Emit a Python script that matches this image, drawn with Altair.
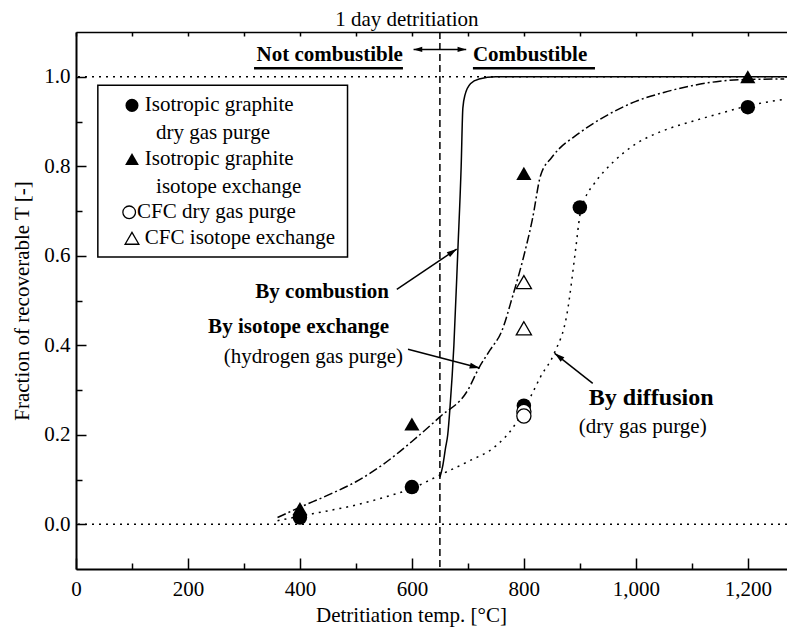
import math
import altair as alt
import pandas as pd

# ---------------- data ----------------
# curve: by combustion (solid)
comb_t = [650, 655, 660, 664, 668, 675, 682, 688, 691, 695, 705, 720, 750, 1270]
comb_f = [0.105, 0.13, 0.17, 0.20, 0.26, 0.40, 0.61, 0.80, 0.93, 0.96, 0.985, 0.995, 1.0, 1.0]
# curve: by isotope exchange (dash-dot)
iso_t = [360, 400, 450, 500, 550, 600, 650, 700, 720, 740, 760, 780, 800, 815, 830, 850,
         900, 950, 1000, 1050, 1100, 1150, 1200, 1265]
iso_f = [0.015, 0.038, 0.065, 0.095, 0.135, 0.185, 0.24, 0.30, 0.35, 0.39, 0.43, 0.51, 0.60,
         0.68, 0.78, 0.82, 0.875, 0.915, 0.945, 0.965, 0.98, 0.99, 0.994, 0.995]
# curve: by diffusion (dotted)
dif_t = [360, 400, 450, 500, 550, 600, 650, 700, 750, 780, 810, 830, 855, 877, 893, 900,
         910, 925, 960, 1000, 1050, 1100, 1150, 1200, 1268]
dif_f = [0.008, 0.018, 0.03, 0.043, 0.06, 0.08, 0.11, 0.14, 0.175, 0.215, 0.28, 0.33, 0.384,
         0.47, 0.62, 0.69, 0.73, 0.76, 0.81, 0.85, 0.88, 0.90, 0.918, 0.935, 0.95]

# measured points
gd_t = [400, 600, 800, 900, 1200]          # isotropic graphite, dry gas purge
gd_f = [0.015, 0.083, 0.265, 0.708, 0.932]
gi_t = [400, 600, 800, 1200]               # isotropic graphite, isotope exchange
gi_f = [0.035, 0.224, 0.784, 1.0]
cd_t = [800, 800]                          # CFC dry gas purge
cd_f = [0.252, 0.242]
ci_t = [800, 800]                          # CFC isotope exchange
ci_f = [0.541, 0.438]

legend_text = ["Isotropic graphite", "dry gas purge", "Isotropic graphite",
               "isotope exchange", "CFC dry gas purge", "CFC isotope exchange"]

# ---------------- layout ----------------
W, H = 711, 537
XMIN, XMAX = 0, 1270
YMIN, YMAX = -0.1, 1.1
PX = W / (XMAX - XMIN)
PY = H / (YMAX - YMIN)
FONT = "Liberation Serif"

xs = alt.Scale(domain=[XMIN, XMAX], nice=False, zero=False)
ys = alt.Scale(domain=[YMIN, YMAX], nice=False, zero=False)

ARROW = "M0,0L0.3,1L-0.3,1Z"


def heading(t0, f0, t1, f1):
    sx = (t1 - t0) * PX
    sy = -(f1 - f0) * PY
    return math.degrees(math.atan2(sx, -sy)) % 360


x_bottom = alt.Axis(
    orient="bottom", values=list(range(0, 1201, 100)),
    labelExpr="datum.value % 200 === 0 ? format(datum.value, ',') : ''",
    tickSize=alt.ExprRef("datum.value % 200 === 0 ? -11 : -6"),
    labelPadding=20, tickWidth=1.5, tickColor="black",
    domainColor="black", domainWidth=2, grid=False,
    labelFont=FONT, labelFontSize=21, labelColor="black", labelFlush=False,
    labelOverlap=False, title="Detritiation temp. [°C]", titleFont=FONT,
    titleFontSize=21, titleFontWeight="normal", titleColor="black", titlePadding=0,
    titleX=335,
)
x_top = alt.Axis(
    orient="top", values=list(range(0, 1201, 100)), labels=False,
    tickSize=alt.ExprRef("-4"), tickWidth=1.5, tickColor="black",
    domainColor="black", domainWidth=1.5, grid=False, title=None,
)
y_left = alt.Axis(
    orient="left", values=[round(k * 0.1, 1) for k in range(0, 11)],
    labelExpr="abs(round(datum.value*10)) % 2 === 0 ? format(datum.value, '.1f') : ''",
    tickSize=alt.ExprRef("abs(round(datum.value*10)) % 2 === 0 ? -10 : -6"),
    labelPadding=16, tickWidth=1.5, tickColor="black",
    domainColor="black", domainWidth=2, grid=False,
    labelFont=FONT, labelFontSize=21, labelColor="black", labelOverlap=False,
    title="Fraction of recoverable T [-]", titleFont=FONT, titleFontSize=21,
    titleFontWeight="normal", titleColor="black", titlePadding=11,
)


def curve(t, f, dash=None, ax=None, ay=None):
    df = pd.DataFrame({"t": t, "f": f})
    kw = dict(color="black", strokeWidth=1.5, interpolate="monotone", clip=True)
    if dash is not None:
        kw["strokeDash"] = dash
    return alt.Chart(df).mark_line(**kw).encode(
        x=alt.X("t:Q", scale=xs, axis=ax),
        y=alt.Y("f:Q", scale=ys, axis=ay),
        order="t:Q",
    )


def points(t, f, shape, filled, size):
    df = pd.DataFrame({"t": t, "f": f})
    return alt.Chart(df).mark_point(
        shape=shape, filled=filled, size=size, color="black",
        fill="black" if filled else "white", fillOpacity=1,
        strokeWidth=1.3, opacity=1,
    ).encode(
        x=alt.X("t:Q", scale=xs, axis=None),
        y=alt.Y("f:Q", scale=ys, axis=None),
    )


def texts(t, f, labels, size=21, weight="normal", align="left"):
    df = pd.DataFrame({"t": t, "f": f, "s": labels})
    return alt.Chart(df).mark_text(
        font=FONT, fontSize=size, fontWeight=weight, align=align,
        baseline="middle", color="black",
    ).encode(
        x=alt.X("t:Q", scale=xs, axis=None),
        y=alt.Y("f:Q", scale=ys, axis=None),
        text="s:N",
    )


def segs(t0, f0, t1, f1, width=1.5, dash=None):
    df = pd.DataFrame({"t0": t0, "f0": f0, "t1": t1, "f1": f1})
    kw = dict(color="black", strokeWidth=width)
    if dash is not None:
        kw["strokeDash"] = dash
    return alt.Chart(df).mark_rule(**kw).encode(
        x=alt.X("t0:Q", scale=xs, axis=None), x2="t1:Q",
        y=alt.Y("f0:Q", scale=ys, axis=None), y2="f1:Q",
    )


def heads(t, f, ang, size=400):
    df = pd.DataFrame({"t": t, "f": f, "a": ang})
    return alt.Chart(df).mark_point(
        shape=ARROW, filled=True, size=size, color="black", opacity=1,
    ).encode(
        x=alt.X("t:Q", scale=xs, axis=None),
        y=alt.Y("f:Q", scale=ys, axis=None),
        angle=alt.Angle("a:Q", scale=None),
    )


# reference lines
hlines = alt.Chart(pd.DataFrame({"f": [0.0, 1.0]})).mark_rule(
    color="black", strokeWidth=1.5, strokeDash=[2, 5]
).encode(y=alt.Y("f:Q", scale=ys, axis=y_left))
vline = alt.Chart(pd.DataFrame({"t": [650]})).mark_rule(
    color="black", strokeWidth=1.5, strokeDash=[7, 4]
).encode(x=alt.X("t:Q", scale=xs, axis=x_top))

# legend box and entries
leg_box = alt.Chart(pd.DataFrame({"t0": [39], "t1": [485], "f0": [0.597], "f1": [0.981]})).mark_rect(
    fill="white", stroke="black", strokeWidth=1.5
).encode(
    x=alt.X("t0:Q", scale=xs, axis=None), x2="t1:Q",
    y=alt.Y("f0:Q", scale=ys, axis=None), y2="f1:Q",
)
leg_rows_f = [0.936, 0.874, 0.816, 0.754, 0.697, 0.639]
leg_rows_t = [123, 143, 123, 143, 109, 123]
leg_sym_t = 100

# arrows (start -> tip)
ar_t0 = [573, 593, 923]
ar_f0 = [0.525, 0.391, 0.315]
ar_t1 = [680, 721, 855]
ar_f1 = [0.615, 0.349, 0.382]
ar_ang = [heading(a, b, c, d) for a, b, c, d in zip(ar_t0, ar_f0, ar_t1, ar_f1)]

layers = [
    hlines,
    curve(comb_t, comb_f, None, x_bottom, None),
    curve(iso_t, iso_f, [9, 3, 2, 3]),
    curve(dif_t, dif_f, [2, 5]),
    vline,
    leg_box,
    points(gd_t, gd_f, "circle", True, 210),
    points(gi_t, gi_f, "triangle-up", True, 230),
    points(cd_t, cd_f, "circle", False, 200),
    points(ci_t, ci_f, "triangle-up", False, 230),
    points([leg_sym_t], [leg_rows_f[0]], "circle", True, 170),
    points([leg_sym_t], [leg_rows_f[2]], "triangle-up", True, 190),
    points([leg_sym_t - 5], [leg_rows_f[4]], "circle", False, 160),
    points([leg_sym_t], [leg_rows_f[5]], "triangle-up", False, 190),
    texts(leg_rows_t, leg_rows_f, legend_text, 21),
    # arrows
    segs(ar_t0, ar_f0, ar_t1, ar_f1),
    heads(ar_t1, ar_f1, ar_ang),
    # top double arrow
    segs([603], [1.061], [697], [1.061]),
    heads([603, 697], [1.061, 1.061], [270, 90], 300),
    # underlines
    segs([318, 709], [1.019, 1.019], [584, 927], [1.019, 1.019], width=2.5),
    texts([591], [1.127], ["1 day detritiation"], 21, "normal", "center"),
    texts([584], [1.048], ["Not combustible"], 21, "bold", "right"),
    texts([709], [1.048], ["Combustible"], 21, "bold", "left"),
    texts([559, 559], [0.518, 0.44], ["By combustion", "By isotope exchange"], 21, "bold", "right"),
    texts([584], [0.373], ["(hydrogen gas purge)"], 21, "normal", "right"),
    texts([916], [0.282], ["By diffusion"], 24, "bold", "left"),
    texts([898], [0.217], ["(dry gas purge)"], 21, "normal", "left"),
]

chart = alt.layer(*layers).resolve_axis(x="independent", y="independent").properties(
    width=W, height=H,
    autosize=alt.AutoSizeParams(type="none"),
    padding={"left": 68, "top": 24, "right": 0, "bottom": 58},
    background="white",
).configure_view(stroke=None)

chart.save("out.html", embed_options={"renderer": "svg", "actions": False})
